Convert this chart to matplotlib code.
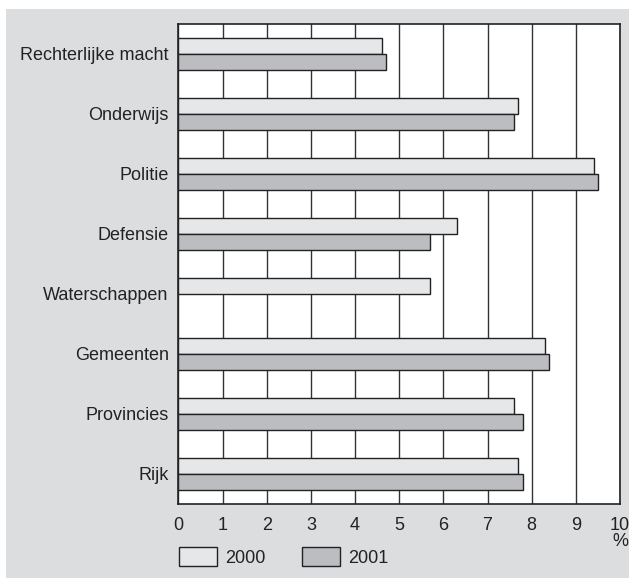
import numpy as np
import matplotlib
matplotlib.use('Agg')
import matplotlib.pyplot as plt
from matplotlib.patches import Rectangle, Patch

plt.rcParams['font.family'] = ['Liberation Sans', 'DejaVu Sans']

# data (percent)
categories = ['Rechterlijke macht', 'Onderwijs', 'Politie', 'Defensie',
              'Waterschappen', 'Gemeenten', 'Provincies', 'Rijk']
vals_2000 = [4.6, 7.7, 9.4, 6.3, 5.7, 8.3, 7.6, 7.7]
vals_2001 = [4.7, 7.6, 9.5, 5.7, np.nan, 8.4, 7.8, 7.8]
xticks = list(range(0, 11))

bg = '#dcdddf'
c2000 = '#e6e7e9'
c2001 = '#bcbdc0'
ink = '#222222'

fig = plt.figure(figsize=(6.29, 5.78), dpi=100)
fig.patches.append(Rectangle((6 / 629, 0), 1, 1 - 9 / 578, transform=fig.transFigure,
                             facecolor=bg, edgecolor='none', zorder=-10))

ax = fig.add_axes([178.4 / 629, 1 - 504 / 578, (620 - 178.4) / 629, (504 - 24) / 578])
ax.set_facecolor('white')

ypos = np.arange(len(categories))[::-1]
h = 0.26
ax.barh(ypos + h / 2, vals_2000, height=h, color=c2000, edgecolor=ink, linewidth=1.0,
        zorder=3, label='2000')
ax.barh(ypos - h / 2, vals_2001, height=h, color=c2001, edgecolor=ink, linewidth=1.0,
        zorder=3, label='2001')

ax.set_xlim(0, 10)
ax.set_ylim(-0.5, 7.5)
ax.set_xticks(xticks)
ax.set_xticklabels([str(t) for t in xticks])
ax.set_yticks(ypos)
ax.set_yticklabels(categories)
ax.tick_params(axis='both', length=0, labelsize=13, colors=ink)
ax.tick_params(axis='x', pad=9)
ax.tick_params(axis='y', pad=7)
ax.grid(axis='x', color='#333333', linewidth=1.0, zorder=0)
ax.set_axisbelow(True)
for s in ax.spines.values():
    s.set_color(ink)
    s.set_linewidth(1.2)

# unit label under the last tick
ax.annotate('%', xy=(10, 0), xycoords=('data', 'axes fraction'), xytext=(0, -27),
            textcoords='offset points', ha='center', va='center', fontsize=13, color=ink)

handles = [Patch(facecolor=c2000, edgecolor=ink, linewidth=1.0, label='2000'),
           Patch(facecolor=c2001, edgecolor=ink, linewidth=1.0, label='2001')]
fig.legend(handles=handles, loc='upper left', bbox_to_anchor=(179 / 629, 1 - 547 / 578),
           ncol=2, frameon=False, fontsize=13, handlelength=2.1, handleheight=1.27,
           handletextpad=0.45, columnspacing=2.05, borderpad=0, borderaxespad=0,
           labelcolor=ink)

fig.savefig('out.png', dpi=100)
